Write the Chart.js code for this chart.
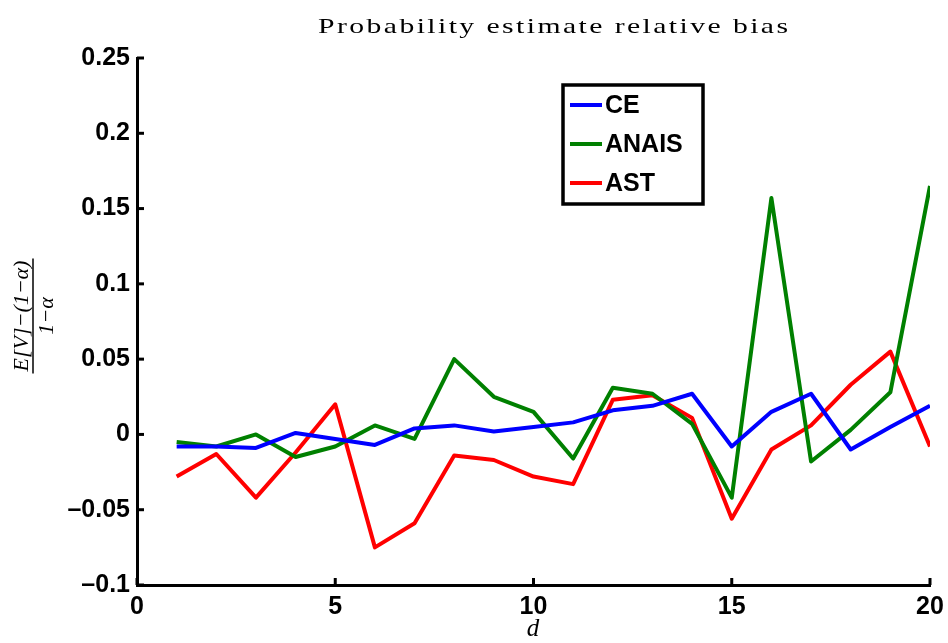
<!DOCTYPE html>
<html>
<head>
<meta charset="utf-8">
<script src="https://cdn.jsdelivr.net/npm/chart.js@4/dist/chart.umd.min.js"></script>
<style>
  html, body { margin: 0; padding: 0; background: #fff; }
  #wrap { width: 948px; height: 643px; }
</style>
</head>
<body>
<div id="wrap"><canvas id="grafico" width="948" height="643"></canvas></div>
<script>
// datos
const dimensiones = [1, 2, 3, 4, 5, 6, 7, 8, 9, 10, 11, 12, 13, 14, 15, 16, 17, 18, 19, 20];
const sesgoCE = [-0.008, -0.008, -0.009, 0.001, -0.003, -0.007, 0.004, 0.006, 0.002, 0.005,
                 0.008, 0.016, 0.019, 0.027, -0.008, 0.015, 0.027, -0.010, 0.005, 0.019];
const sesgoANAIS = [-0.005, -0.008, 0.000, -0.015, -0.008, 0.006, -0.003, 0.050, 0.025, 0.015,
                    -0.016, 0.031, 0.027, 0.007, -0.042, 0.157, -0.018, 0.003, 0.028, 0.165];
const sesgoAST = [-0.028, -0.013, -0.042, -0.012, 0.020, -0.075, -0.059, -0.014, -0.017, -0.028,
                  -0.033, 0.023, 0.026, 0.011, -0.056, -0.010, 0.006, 0.033, 0.055, -0.008];
const series = ["CE", "ANAIS", "AST"];
const colores = ["#0000ff", "#008000", "#ff0000"];
const tituloTexto = "Probability estimate relative bias";

const fuenteTicks = { family: "'Liberation Sans', Arial, sans-serif", size: 25, weight: "bold" };

function puntos(valores) {
    return dimensiones.map((d, i) => ({ x: d, y: valores[i] }));
}

function formatoTick(v) {
    let t = String(Number(v.toFixed(2)));
    return t.replace("-", "\u2013");
}

// marcas hacia adentro, titulo, etiqueta y leyenda
const extras = {
    id: "extras",
    afterDraw(chart) {
        const ctx = chart.ctx;
        const area = chart.chartArea;
        const xs = chart.scales.x;
        const ys = chart.scales.y;
        ctx.save();
        ctx.strokeStyle = "#000";
        ctx.lineWidth = 3;
        xs.ticks.forEach(t => {
            const px = xs.getPixelForValue(t.value);
            ctx.beginPath();
            ctx.moveTo(px, area.bottom);
            ctx.lineTo(px, area.bottom - 7);
            ctx.stroke();
        });
        ys.ticks.forEach(t => {
            const py = ys.getPixelForValue(t.value);
            ctx.beginPath();
            ctx.moveTo(area.left, py);
            ctx.lineTo(area.left + 7, py);
            ctx.stroke();
        });

        // titulo (glifos ensanchados para parecerse a Computer Modern)
        ctx.fillStyle = "#000";
        ctx.font = "22px 'Liberation Serif', serif";
        ctx.textAlign = "left";
        ctx.textBaseline = "alphabetic";
        const ensanche = 1.35;
        const anchoBase = ctx.measureText(tituloTexto).width * ensanche;
        const espacio = (470 - anchoBase) / (tituloTexto.length - 1) / ensanche;
        ctx.save();
        ctx.translate(318, 33);
        ctx.scale(ensanche, 1);
        ctx.letterSpacing = espacio + "px";
        ctx.fillText(tituloTexto, 0, 0);
        ctx.restore();

        // etiqueta eje x
        ctx.font = "italic 25px 'Liberation Serif', serif";
        ctx.textAlign = "center";
        ctx.fillText("d", 533, 636);

        // etiqueta eje y (fraccion)
        ctx.save();
        ctx.translate(33, 316);
        ctx.rotate(-Math.PI / 2);
        ctx.font = "italic 22px 'Liberation Serif', serif";
        const num = "E[V]\u2212(1\u2212\u03b1)";
        const den = "1\u2212\u03b1";
        const anchoNum = ctx.measureText(num).width;
        ctx.textAlign = "center";
        ctx.textBaseline = "alphabetic";
        ctx.fillText(num, 0, -5);
        ctx.textBaseline = "top";
        ctx.fillText(den, 0, 3);
        ctx.lineWidth = 1.5;
        ctx.beginPath();
        ctx.moveTo(-anchoNum / 2 - 2, 0);
        ctx.lineTo(anchoNum / 2 + 2, 0);
        ctx.stroke();
        ctx.restore();

        // leyenda
        ctx.fillStyle = "#fff";
        ctx.fillRect(563, 85, 140, 119);
        ctx.strokeStyle = "#000";
        ctx.lineWidth = 3.5;
        ctx.strokeRect(563, 85, 140, 119);
        ctx.font = "bold 25px 'Liberation Sans', Arial, sans-serif";
        ctx.textAlign = "left";
        ctx.textBaseline = "middle";
        chart.data.datasets.forEach((ds, i) => {
            const y = 105 + i * 39;
            ctx.strokeStyle = ds.borderColor;
            ctx.lineWidth = 4;
            ctx.beginPath();
            ctx.moveTo(570, y);
            ctx.lineTo(602, y);
            ctx.stroke();
            ctx.fillStyle = "#000";
            ctx.fillText(ds.label, 605, y + 1);
        });
        ctx.restore();
    }
};

const ctx = document.getElementById("grafico").getContext("2d");
const chart = new Chart(ctx, {
    type: "line",
    data: {
        datasets: [
            { label: series[0], data: puntos(sesgoCE), borderColor: colores[0] },
            { label: series[1], data: puntos(sesgoANAIS), borderColor: colores[1] },
            { label: series[2], data: puntos(sesgoAST), borderColor: colores[2] }
        ]
    },
    options: {
        responsive: false,
        animation: false,
        devicePixelRatio: 1,
        layout: { padding: { top: 58, right: 18, left: 0, bottom: 0 } },
        elements: {
            line: { borderWidth: 4, tension: 0, borderJoinStyle: "round" },
            point: { radius: 0 }
        },
        plugins: {
            legend: { display: false },
            tooltip: { enabled: false }
        },
        scales: {
            x: {
                type: "linear",
                min: 0,
                max: 20,
                ticks: { stepSize: 5, color: "#000", font: fuenteTicks, padding: 7, maxRotation: 0 },
                grid: { drawOnChartArea: false, drawTicks: false },
                border: { display: true, color: "#000", width: 3 },
                afterFit: s => { s.height = 58; s.paddingLeft = 0; s.paddingRight = 0; }
            },
            y: {
                min: -0.1,
                max: 0.25,
                ticks: { stepSize: 0.05, color: "#000", font: fuenteTicks, padding: 7, callback: formatoTick },
                grid: { drawOnChartArea: false, drawTicks: false },
                border: { display: true, color: "#000", width: 3 },
                afterFit: s => { s.width = 137; s.paddingTop = 0; s.paddingBottom = 0; }
            }
        }
    },
    plugins: [extras]
});
</script>
</body>
</html>
